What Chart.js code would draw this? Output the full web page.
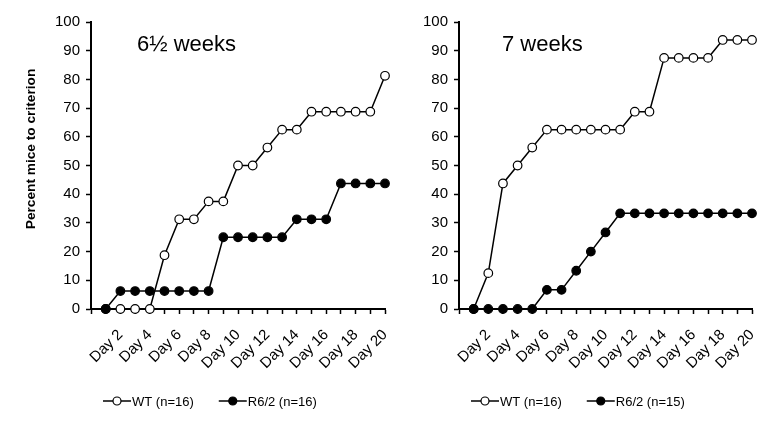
<!DOCTYPE html>
<html>
<head>
<meta charset="utf-8">
<script src="https://cdn.jsdelivr.net/npm/chart.js@4.4.1/dist/chart.umd.min.js"></script>
<style>
    body { margin: 0; background: #fff; }
    #wrap { position: relative; width: 784px; height: 424px; }
    .panel { position: absolute; top: 0; height: 424px; }
</style>
</head>
<body>
<div id="wrap">
    <div class="panel" style="left:0;width:400px"><canvas id="chartLeft"></canvas></div>
    <div class="panel" style="left:400px;width:384px"><canvas id="chartRight"></canvas></div>
</div>
<script>
// data
const days = [1, 2, 3, 4, 5, 6, 7, 8, 9, 10, 11, 12, 13, 14, 15, 16, 17, 18, 19, 20];

const wt65 = [0, 0, 0, 0, 18.75, 31.25, 31.25, 37.5, 37.5, 50, 50, 56.25, 62.5, 62.5, 68.75, 68.75, 68.75, 68.75, 68.75, 81.25];
const r62_65 = [0, 6.25, 6.25, 6.25, 6.25, 6.25, 6.25, 6.25, 25, 25, 25, 25, 25, 31.25, 31.25, 31.25, 43.75, 43.75, 43.75, 43.75];

const wt7 = [0, 12.5, 43.75, 50, 56.25, 62.5, 62.5, 62.5, 62.5, 62.5, 62.5, 68.75, 68.75, 87.5, 87.5, 87.5, 87.5, 93.75, 93.75, 93.75];
const r62_7 = [0, 0, 0, 0, 0, 6.67, 6.67, 13.33, 20, 26.67, 33.33, 33.33, 33.33, 33.33, 33.33, 33.33, 33.33, 33.33, 33.33, 33.33];

const panelTitles = ['6\u00bd weeks', '7 weeks'];
const legendLabels = [['WT (n=16)', 'R6/2 (n=16)'], ['WT (n=16)', 'R6/2 (n=15)']];
const yTitle = 'Percent mice to criterion';

const FONT = "'Liberation Sans', Arial, sans-serif";

function toPoints(values) {
    return values.map((v, i) => ({ x: days[i], y: v }));
}

// заголовок панели, подпись оси и легенда рисуются вручную
const decorPlugin = {
    id: 'decor',
    afterDraw(chart, args, opts) {
        const ctx = chart.ctx;
        const area = chart.chartArea;
        ctx.save();
        ctx.fillStyle = '#000';

        ctx.font = '22px ' + FONT;
        ctx.textBaseline = 'alphabetic';
        ctx.textAlign = 'left';
        ctx.fillText(opts.title, area.left + opts.titleDx, 51);

        if (opts.yTitle) {
            ctx.save();
            ctx.translate(31, 149);
            ctx.rotate(-Math.PI / 2);
            ctx.font = 'bold 13.7px ' + FONT;
            ctx.textAlign = 'center';
            ctx.textBaseline = 'middle';
            ctx.fillText(opts.yTitle, 0, 0);
            ctx.restore();
        }

        // легенда: линия с маркером + текст
        let x = area.left + 12;
        const y = 401;
        ctx.font = '13px ' + FONT;
        ctx.textBaseline = 'middle';
        ctx.textAlign = 'left';
        chart.data.datasets.forEach(ds => {
            ctx.strokeStyle = '#000';
            ctx.lineWidth = 1.5;
            ctx.beginPath();
            ctx.moveTo(x, y);
            ctx.lineTo(x + 28, y);
            ctx.stroke();
            ctx.beginPath();
            ctx.arc(x + 14, y, 4, 0, Math.PI * 2);
            ctx.fillStyle = ds.pointBackgroundColor;
            ctx.fill();
            ctx.lineWidth = 1.2;
            ctx.stroke();
            ctx.fillStyle = '#000';
            ctx.fillText(ds.label, x + 29, y + 1);
            x += 29 + ctx.measureText(ds.label).width + 25;
        });
        ctx.restore();
    }
};

function makeChart(canvasId, wt, r62, idx, opts) {
    const ctx = document.getElementById(canvasId).getContext('2d');
    return new Chart(ctx, {
        type: 'line',
        data: {
            datasets: [
                {
                    label: legendLabels[idx][0],
                    data: toPoints(wt),
                    borderColor: '#000',
                    borderWidth: 1.5,
                    pointRadius: 4.3,
                    pointBorderWidth: 1.2,
                    pointBackgroundColor: '#fff',
                    pointBorderColor: '#000',
                    order: 1,
                    clip: false
                },
                {
                    label: legendLabels[idx][1],
                    data: toPoints(r62),
                    borderColor: '#000',
                    borderWidth: 1.5,
                    pointRadius: 4.3,
                    pointBorderWidth: 1.2,
                    pointBackgroundColor: '#000',
                    pointBorderColor: '#000',
                    order: 0,
                    clip: false
                }
            ]
        },
        options: {
            responsive: true,
            maintainAspectRatio: false,
            animation: false,
            layout: {
                padding: { left: 0, right: opts.padRight, top: 22, bottom: 55 }
            },
            scales: {
                x: {
                    type: 'linear',
                    min: 0,
                    max: 20,
                    afterFit: scale => {
                        scale.height = 60;
                        scale.paddingLeft = 0;
                        scale.paddingRight = 0;
                    },
                    ticks: {
                        stepSize: 1,
                        autoSkip: false,
                        maxRotation: 45,
                        minRotation: 45,
                        padding: 12,
                        color: '#000',
                        font: { family: FONT, size: 15 },
                        callback: v => (v > 0 && v % 2 === 0) ? 'Day ' + v : ''
                    },
                    grid: {
                        drawOnChartArea: false,
                        drawTicks: true,
                        tickLength: 5,
                        tickWidth: 1.5,
                        tickColor: '#000'
                    },
                    border: { display: true, color: '#000', width: 2 }
                },
                y: {
                    min: 0,
                    max: 100,
                    afterFit: scale => { scale.width = opts.yWidth; },
                    ticks: {
                        stepSize: 10,
                        padding: 6,
                        color: '#000',
                        font: { family: FONT, size: 15 }
                    },
                    grid: {
                        drawOnChartArea: false,
                        drawTicks: true,
                        tickLength: 5,
                        tickWidth: 1.5,
                        tickColor: '#000'
                    },
                    border: { display: true, color: '#000', width: 2 }
                }
            },
            plugins: {
                legend: { display: false },
                tooltip: { enabled: false },
                decor: {
                    title: panelTitles[idx],
                    titleDx: opts.titleDx,
                    yTitle: opts.yTitle
                }
            }
        },
        plugins: [decorPlugin]
    });
}

makeChart('chartLeft', wt65, r62_65, 0, { padRight: 15, yWidth: 91, titleDx: 46, yTitle: yTitle });
makeChart('chartRight', wt7, r62_7, 1, { padRight: 32, yWidth: 59, titleDx: 43, yTitle: null });
</script>
</body>
</html>
